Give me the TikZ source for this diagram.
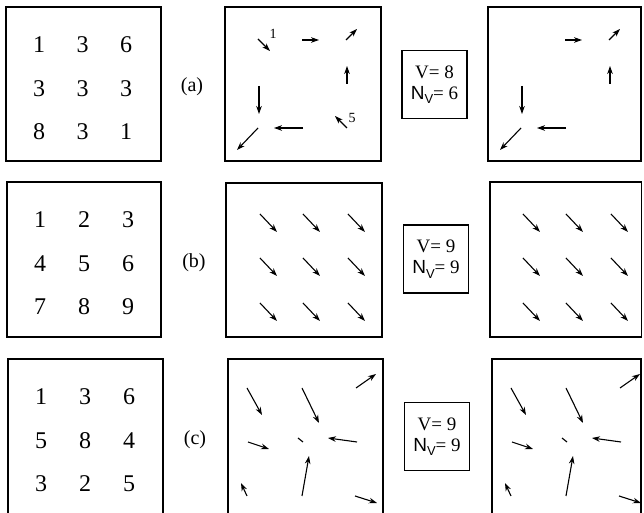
\documentclass[tikz,border=0pt]{standalone}
\usepackage{fontspec}
\setmainfont{Liberation Serif}
\setsansfont{Liberation Sans}
\usetikzlibrary{arrows.meta}

\newcommand{\nvlabel}[1]{{\sffamily N\raisebox{-0.45ex}{\fontsize{6.5}{7}\selectfont V}}=~#1}

\begin{document}
\begin{tikzpicture}[x=0.5pt,y=-0.5pt,
  frame/.style={draw,line width=0.6pt},
  num/.style={font=\fontsize{12}{14}\selectfont,inner sep=0pt},
  tag/.style={font=\fontsize{10}{12}\selectfont,inner sep=0pt},
  tick/.style={font=\fontsize{7}{8}\selectfont,inner sep=0.5pt},
  vec/.style={line width=0.55pt,-{Stealth[length=4pt,width=2.8pt]}},
  info/.style={draw,line width=0.6pt,minimum width=32.5pt,minimum height=34pt,
               inner sep=1pt,align=center,font=\fontsize{9.5}{10.5}\selectfont}]
  \useasboundingbox (0,0) rectangle (644,513);

  % row (a)
  \draw[frame] (6,7) rectangle (161,161);
  \foreach \v [count=\k from 0] in {1,3,6,3,3,3,8,3,1}
    \node[num] (a\k) at ({39+43.5*mod(\k,3)},{45+43.5*div(\k,3)}) {\v};
  \node[tag] (taga) at (192,87) {(a)};
  \draw[frame] (225,7) rectangle (381,161);
  \draw[frame] (488,7) rectangle (641,161);
  \draw[vec] (258,39) -- (270,51);
  \node[tick] (one) at (273,34) {1};
  \draw[vec] (347,128) -- (335,116);
  \node[tick] (five) at (352,118) {5};
  \foreach \dx in {0,263} {
    \begin{scope}[shift={(\dx,0)}]
      \draw[vec] (302,40) -- (319,40);
      \draw[vec] (346,40) -- (357,29);
      \draw[vec] (347,84) -- (347,66);
      \draw[vec] (303,128) -- (274,128);
      \draw[vec] (259,86) -- (259,114);
      \draw[vec] (258,128) -- (237,150);
    \end{scope}
  }
  \node[info] (infoa) at (434.5,84.5) {V=~8\\\nvlabel{6}};

  % row (b)
  \draw[frame] (7,182) rectangle (161,337);
  \foreach \v [count=\k from 0] in {1,2,3,4,5,6,7,8,9}
    \node[num] (b\k) at ({40+44*mod(\k,3)},{220+43.5*div(\k,3)}) {\v};
  \node[tag] (tagb) at (194,263) {(b)};
  \draw[frame] (226,183) rectangle (382,337);
  \draw[frame] (490,182) rectangle (641.5,337);
  \foreach \dx in {0,263}
    \foreach \cx in {260,303,348}
      \foreach \cy in {214,258,303}
        \draw[vec] (\cx+\dx,\cy) -- ++(17,18);
  \node[info] (infob) at (436,259) {V=~9\\\nvlabel{9}};

  % row (c)
  \draw[frame] (8,513) |- (163,359) -- (163,513);
  \foreach \v [count=\k from 0] in {1,3,6,5,8,4,3,2,5}
    \node[num] (c\k) at ({41+44*mod(\k,3)},{397+43.5*div(\k,3)}) {\v};
  \node[tag] (tagc) at (195,440) {(c)};
  \draw[frame] (228,513) |- (383,359) -- (383,513);
  \draw[frame] (492,513) |- (641,359) -- (641,513);
  \foreach \dx in {0,264} {
    \begin{scope}[shift={(\dx,0)}]
      \draw[vec] (247,388) -- (262,415);
      \draw[vec] (302,388) -- (319,423);
      \draw[vec] (356,388) -- (376,374);
      \draw[vec] (248,442) -- (269,449);
      \draw[line width=0.55pt] (298,438) -- (303,442);
      \draw[vec] (357,442) -- (328,438);
      \draw[vec] (247,496) -- (241,483);
      \draw[vec] (302,496) -- (309,456);
      \draw[vec] (355,496) -- (377,503);
    \end{scope}
  }
  \node[info] (infoc) at (437,436.5) {V=~9\\\nvlabel{9}};
\end{tikzpicture}
\end{document}
